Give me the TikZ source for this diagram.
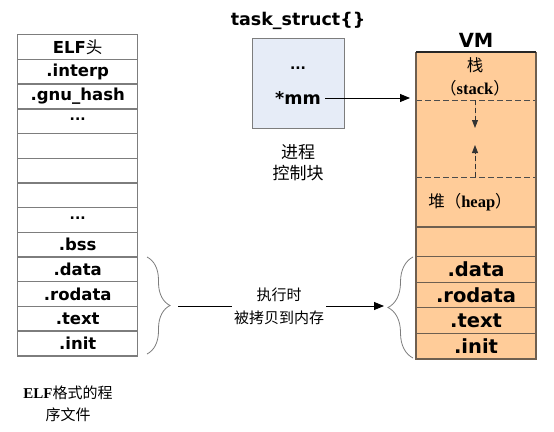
\documentclass[tikz,border=0pt]{standalone}
\usepackage{fontspec}
\setmainfont{DejaVu Sans}
\newfontfamily\cjk{Noto Sans CJK SC}
\newfontfamily\tms{Liberation Serif}
\usetikzlibrary{arrows.meta,decorations.pathreplacing}
\definecolor{vmfill}{RGB}{255,204,153}
\definecolor{tsfill}{RGB}{230,236,247}
\definecolor{graybd}{RGB}{125,125,125}
\definecolor{vmbd}{RGB}{110,95,80}
\newcommand{\mydots}{{\fontsize{14}{14}\selectfont\bfseries\raisebox{3.5pt}{...}}}
\begin{document}
\begin{tikzpicture}[x=1pt,y=-1pt,
  cell/.style={draw=graybd, line width=1.4pt, minimum width=120pt, minimum height=24.7pt,
    inner sep=0pt, anchor=north west, font=\fontsize{16.5}{18}\selectfont\bfseries},
  vcell/.style={draw=vmbd, line width=1.1pt, fill=vmfill, minimum width=119pt, minimum height=25.5pt,
    inner sep=0pt, anchor=north west, font=\fontsize{19.5}{20}\selectfont\bfseries},
  brc/.style={draw=graybd, line width=0.8pt, decorate},
  arr/.style={-{Triangle[length=10pt,width=8pt]}, line width=0.9pt},
  darr/.style={-{Triangle[length=8pt,width=6pt]}, dash pattern=on 5pt off 3pt, line width=0.9pt, draw=black!80, fill=black!80},
  dline/.style={dash pattern=on 6pt off 3pt, line width=0.9pt, draw=black!70},
  lbl/.style={align=center, inner sep=1pt}]
\useasboundingbox (0,0) rectangle (554,431);

% left ELF table
\node[cell] (l1) at (17,34) {ELF{\cjk\mdseries 头}};
\node[cell] (l2) at (17,58.7) {.interp};
\node[cell] (l3) at (17,83.4) {.gnu\_hash};
\node[cell] (l4) at (17,108.1) {\mydots};
\node[cell] (l5) at (17,132.8) {};
\node[cell] (l6) at (17,157.5) {};
\node[cell] (l7) at (17,182.2) {};
\node[cell] (l8) at (17,206.9) {\mydots};
\node[cell] (l9) at (17,231.6) {.bss};
\node[cell] (l10) at (17,256.3) {.data};
\node[cell] (l11) at (17,281.0) {.rodata};
\node[cell] (l12) at (17,305.7) {.text};
\node[cell] (l13) at (17,330.4) {.init};

\node[lbl, font=\fontsize{15}{22}\selectfont] (elfcap) at (68,404)
  {{\tms\bfseries ELF}{\cjk 格式的程}\\{\cjk 序文件}};

% task_struct
\node[font=\fontsize{17.5}{18}\selectfont\bfseries] (tstitle) at (298,21) {task\_struct\{\}};
\node[draw=graybd, line width=1.2pt, fill=tsfill, minimum width=92pt, minimum height=90pt,
  anchor=north west, inner sep=0pt] (ts) at (252,38) {};
\node[inner sep=0pt] (tsdots) at (298,70) {\mydots};
\node[font=\fontsize{17.5}{18}\selectfont\bfseries, inner sep=4pt] (mm) at (298,98) {*mm};
\node[lbl, font=\cjk\fontsize{17}{21}\selectfont] (pcb) at (298,163) {进程\\控制块};

% VM
\node[font=\fontsize{19.5}{20}\selectfont\bfseries] (vmtitle) at (476,40) {VM};
\node[draw=vmbd, line width=1.3pt, fill=vmfill, minimum width=119pt, minimum height=306pt,
  anchor=north west, inner sep=0pt] (vm) at (416,52) {};
\node[lbl, font=\fontsize{16.5}{23}\selectfont] (stack) at (475,77)
  {{\cjk 栈}\\{\cjk （}{\tms\bfseries stack}{\cjk ）}};
\coordinate (d1l) at (416,100); \coordinate (d1r) at (535,100);
\coordinate (d2l) at (416,177); \coordinate (d2r) at (535,177);
\draw[dline] (d1l) -- (d1r);
\draw[dline] (d2l) -- (d2r);
\coordinate (a1s) at (475,100); \coordinate (a1e) at (475,128);
\coordinate (a2s) at (475,177); \coordinate (a2e) at (475,145);
\draw[darr] (a1s) -- (a1e);
\draw[darr] (a2s) -- (a2e);
\node[lbl, font=\fontsize{16.5}{18}\selectfont] (heap) at (470,202)
  {{\cjk 堆（}{\tms\bfseries heap}{\cjk ）}};
\coordinate (hl) at (416,227); \coordinate (hr) at (535,227);
\draw[draw=vmbd, line width=1.1pt] (hl) -- (hr);
\node[vcell] (v1) at (416,256) {.data};
\node[vcell] (v2) at (416,281.5) {.rodata};
\node[vcell] (v3) at (416,307) {.text};
\node[vcell] (v4) at (416,332.5) {.init};
\draw[draw=vmbd, line width=1.3pt] (vm.north west) -- (vm.south west) -- (vm.south east) -- (vm.north east);
\draw[line width=2pt, black!85] (vm.north west) -- (vm.north east);

% *mm -> VM
\draw[arr] (mm.east) -- ([xshift=-6pt]mm.east -| vm.west);

% braces
\coordinate (lbt) at (147,257); \coordinate (lbb) at (147,354);
\coordinate (rbt) at (413,257); \coordinate (rbb) at (413,358);
\draw[brc, decoration={brace, amplitude=23pt}] (lbt) -- (lbb);
\draw[brc, decoration={brace, amplitude=25pt}] (rbb) -- (rbt);
\coordinate (ltip) at (170,306); \coordinate (rtip) at (388,306);
\draw[arr, shorten <=8pt, shorten >=4pt] (ltip) -- (rtip);
\node[lbl, fill=white, inner sep=2pt, font=\cjk\fontsize{15}{23}\selectfont] (copy) at (279,306)
  {执行时\\被拷贝到内存};
\end{tikzpicture}
\end{document}
